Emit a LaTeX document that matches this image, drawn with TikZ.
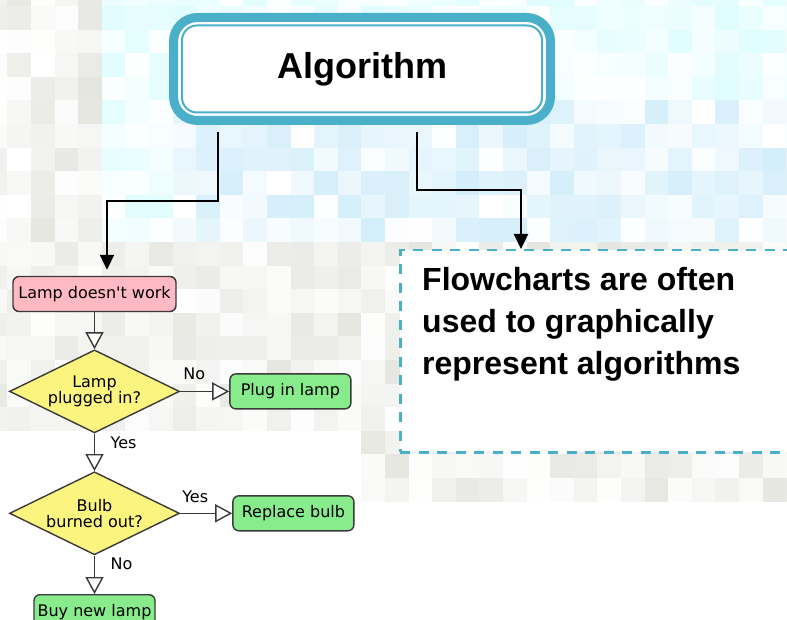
\documentclass[tikz,border=0pt]{standalone}
\usepackage{fontspec}
\setmainfont{Liberation Sans}
\newfontfamily\chartfont{DejaVu Sans}
\usepackage{tikz}
\usetikzlibrary{positioning, arrows.meta, calc, shapes.geometric}
\definecolor{algoTeal}{HTML}{4AAFC8}
\definecolor{mosBlue}{HTML}{C9EAFA}
\definecolor{mosCyan}{HTML}{D8FCFF}
\definecolor{mosGrey}{HTML}{E0E0DA}
\definecolor{chartLine}{HTML}{3A3A3A}
\definecolor{chartPink}{HTML}{FFB9C3}
\definecolor{chartYellow}{HTML}{FBF47E}
\definecolor{chartGreen}{HTML}{88EC8C}

\tikzset{
  stepbox/.style={draw=chartLine, line width=1.4pt, rounded corners=6pt,
    font=\chartfont\fontsize{16}{16}\selectfont, minimum height=35pt,
    minimum width=121pt, inner xsep=2pt, fill=chartGreen},
  decision/.style={diamond, draw=chartLine, line width=1.4pt, fill=chartYellow,
    aspect=2, inner sep=0pt, minimum width=170pt, minimum height=83pt,
    align=center, font=\chartfont\fontsize{16}{16}\selectfont},
  answer/.style={font=\chartfont\fontsize{16}{16}\selectfont, inner sep=0pt},
  flow/.style={draw=chartLine, line width=1.4pt,
    -{Triangle[length=17pt, width=18pt, fill=white]}},
  link/.style={draw=black, line width=2pt, -{Triangle[length=15pt, width=14pt]}}
}

\begin{document}
\begin{tikzpicture}[x=1pt, y=-1pt]
  \useasboundingbox (0,0) rectangle (787,620);
  \clip (0,0) rectangle (787,620);
  \fill[white] (0,0) rectangle (787,620);
  % Mosaico de fondo (celdas de 23.6 px)
  \pgfmathsetseed{4242}
  \foreach \i in {0,...,34} {
    \foreach \j in {0,...,21} {
      \pgfmathsetmacro\cx{-16.3+23.6*\i}
      \pgfmathsetmacro\cy{-17.6+23.6*\j}
      \pgfmathtruncatemacro\keep{(\cy<430 || \cx>350) ? 1 : 0}
      \pgfmathtruncatemacro\blue{(\cy<240 && \cx>100) ? 1 : 0}
      \pgfmathtruncatemacro\cyan{(\cy<100 || \cx<170) ? 1 : 0}
      \pgfmathtruncatemacro\shade{random(0,80)}
      \ifnum\keep=1
        \ifnum\blue=1
          \ifnum\cyan=1
            \fill[mosCyan!\shade!white] (\cx,\cy) rectangle ++(23.7,23.7);
          \else
            \fill[mosBlue!\shade!white] (\cx,\cy) rectangle ++(23.7,23.7);
          \fi
        \else
          \fill[mosGrey!\shade!white] (\cx,\cy) rectangle ++(23.7,23.7);
        \fi
      \fi
    }
  }
  % Caja principal
  \node[draw=algoTeal, line width=9pt, rounded corners=24pt, fill=white,
    minimum width=377pt, minimum height=103pt,
    font=\bfseries\fontsize{36}{40}\selectfont] (algo) at (362,69) {Algorithm};
  \draw[algoTeal, line width=2pt, rounded corners=15pt]
    ($(algo.north west)+(13,12.5)$) rectangle ($(algo.south east)+(-13,-12.5)$);
  % Nota a la derecha
  \node[draw=algoTeal, line width=2.5pt, dash pattern=on 10pt off 8.5pt,
    fill=white, anchor=north west, minimum width=410pt, minimum height=202pt]
    (note) at (399,249) {};
  \node[anchor=north west, inner sep=0pt, align=left,
    font=\bfseries\fontsize{32}{42}\selectfont]
    (noteText) at ($(note.north west)+(23,18)$)
    {Flowcharts are often\\used to graphically\\represent algorithms};
  % Diagrama de flujo
  \node[stepbox, fill=chartPink, minimum width=163pt] (lamp) at (94.5,294)
    {Lamp doesn't work};
  \node[decision, below=37pt of lamp] (plugged) {Lamp\\plugged in?};
  \node[stepbox, right=49pt of plugged] (plug) {Plug in lamp};
  \node[decision, below=37.5pt of plugged] (burned) {Bulb\\burned out?};
  \node[stepbox, right=52pt of burned] (replace) {Replace bulb};
  \node[stepbox, below=38.5pt of burned.south, anchor=north] (buy) {Buy new lamp};
  \node[answer] (noPlug) at ($(plugged.east)+(14,-18)$) {No};
  \node[answer] (yesPlug) at ($(plugged.south)+(29,9)$) {Yes};
  \node[answer] (yesBulb) at ($(burned.east)+(15,-17)$) {Yes};
  \node[answer] (noBulb) at ($(burned.south)+(27,8)$) {No};
  \draw[flow] (lamp) -- (plugged);
  \draw[flow] (plugged) -- (plug);
  \draw[flow] (plugged) -- (burned);
  \draw[flow] (burned) -- (replace);
  \draw[flow] (burned.south) -- (burned.south |- buy.north);
  % Conectores desde la caja principal
  \coordinate (algoL) at ($(algo.south west)+(49,7)$);
  \coordinate (algoR) at ($(algo.south west)+(248,7)$);
  \coordinate (lampIn) at ($(lamp.north)+(12.5,-6)$);
  \coordinate (noteIn) at ($(note.north west)+(122,0)$);
  \draw[link] (algoL) |- ($(lampIn)+(0,-69)$) -- (lampIn);
  \draw[link] (algoR) |- ($(noteIn)+(0,-59)$) -- (noteIn);
\end{tikzpicture}
\end{document}
